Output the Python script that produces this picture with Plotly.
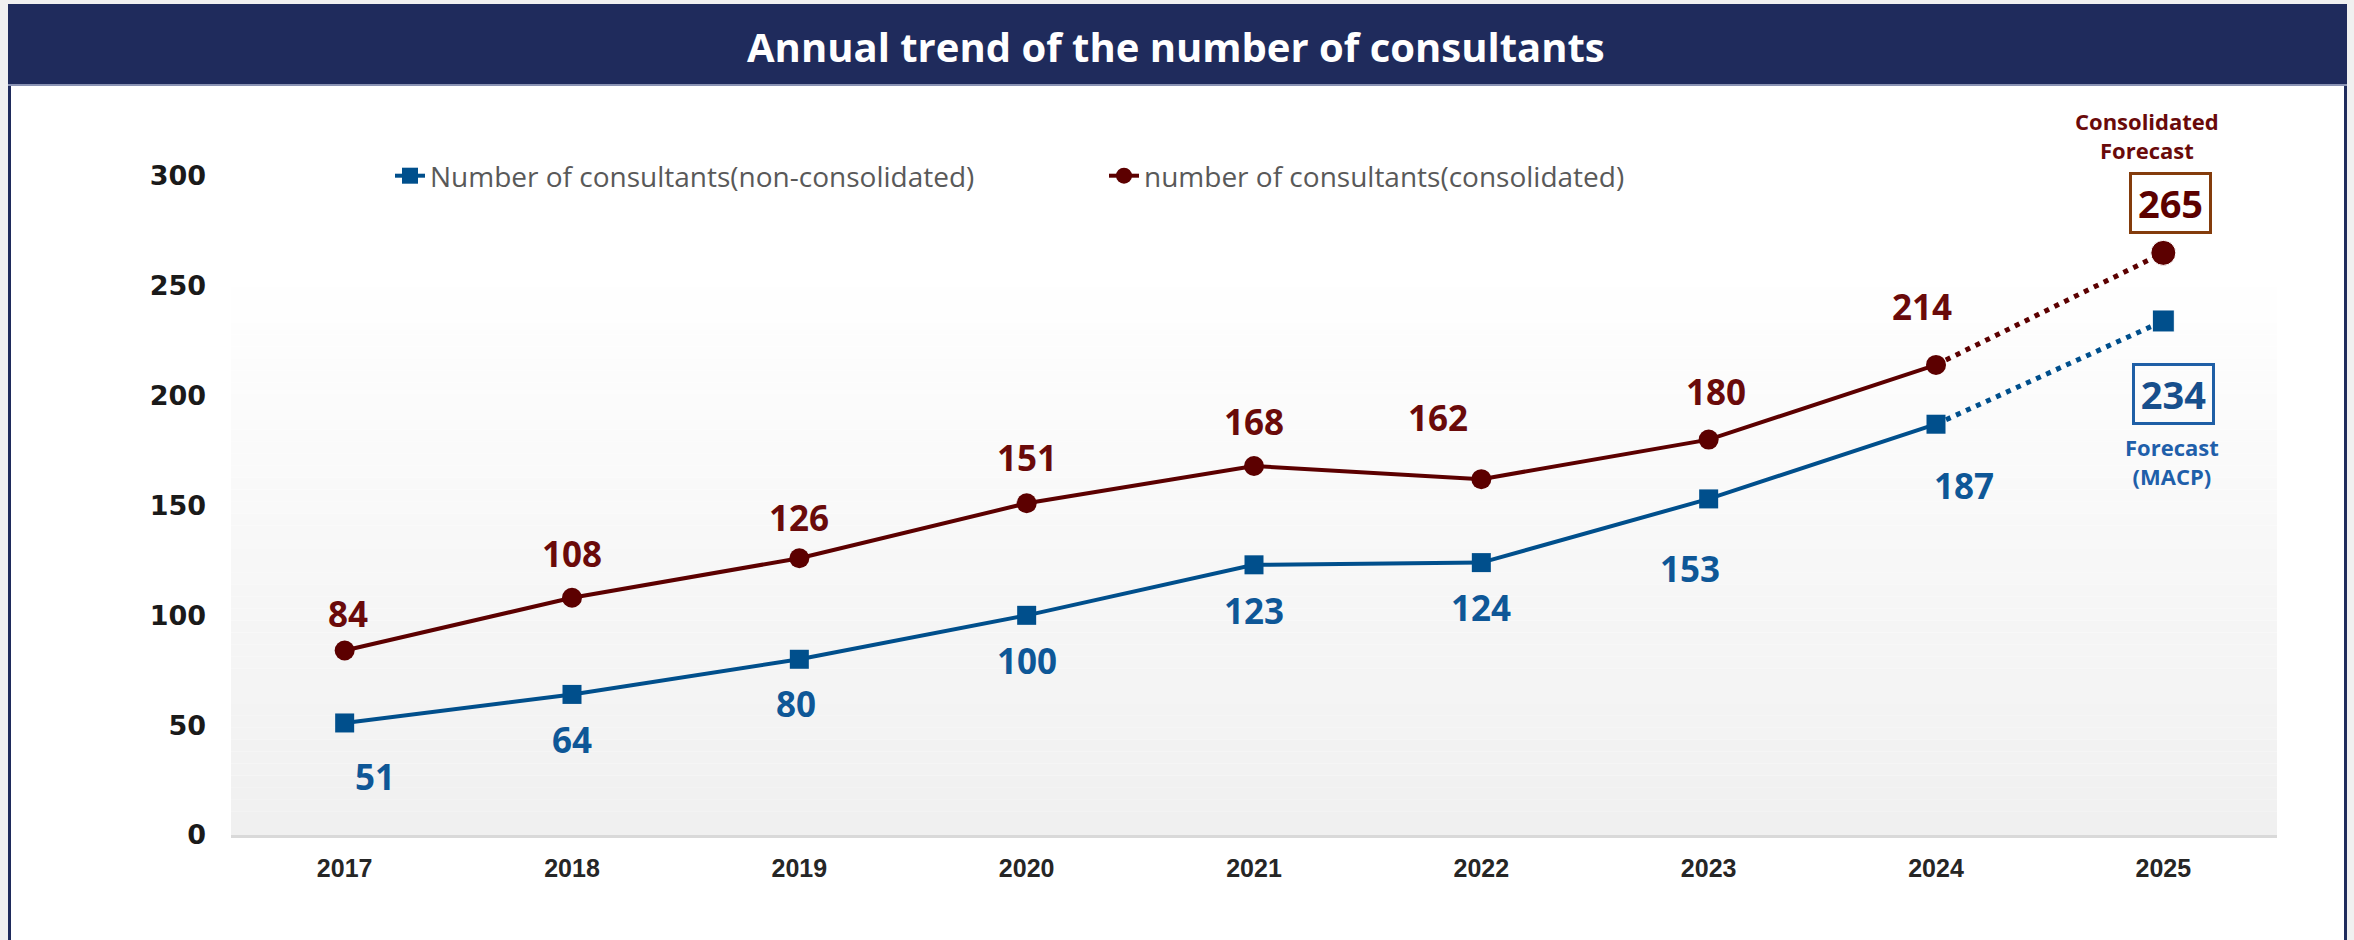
import plotly.graph_objects as go

# ---------------- data ----------------
years = [2017, 2018, 2019, 2020, 2021, 2022, 2023, 2024, 2025]
year_labels = ["2017", "2018", "2019", "2020", "2021", "2022", "2023", "2024", "2025"]
non_consolidated = [51, 64, 80, 100, 123, 124, 153, 187]      # actual 2017-2024
consolidated = [84, 108, 126, 151, 168, 162, 180, 214]         # actual 2017-2024
forecast_non_consolidated = 234                                 # 2025 forecast (MACP)
forecast_consolidated = 265                                     # 2025 consolidated forecast
y_ticks = [0, 50, 100, 150, 200, 250, 300]

series_names = ["Number of consultants(non-consolidated)", "number of consultants(consolidated)"]
title_text = "Annual trend of the number of consultants"

# ---------------- styles ----------------
W, H = 2354, 940
L, R, T, B = 231, 77, 176, 105
PW, PH = W - L - R, H - T - B

BLUE = "#004F8C"
RED = "#5C0000"
BLUE_TXT = "#0E5797"
RED_TXT = "#6A0A0A"
NAVY = "#1F2B5C"

def px(x):
    return (x - L) / PW

def py(y):
    return (H - B - y) / PH

# label offsets (xshift, yshift) in px, per point
red_shift = [(3, 37), (0, 44), (0, 41), (0, 46), (0, 44), (-43, 62), (7, 48), (-14, 58)]
blue_shift = [(30, -54), (0, -45), (-3, -44), (0, -45), (0, -46), (0, -45), (-19, -70), (28, -61)]

fig = go.Figure()

# dotted forecast segments
fig.add_trace(go.Scatter(
    x=[years[7], years[8]], y=[consolidated[-1], forecast_consolidated],
    mode="lines+markers", line=dict(color=RED, width=5, dash="5px,6px"),
    marker=dict(symbol="circle", size=[0, 25], color=RED, opacity=1), showlegend=False, hoverinfo="skip"))
fig.add_trace(go.Scatter(
    x=[years[7], years[8]], y=[non_consolidated[-1], forecast_non_consolidated],
    mode="lines+markers", line=dict(color=BLUE, width=5, dash="5px,6px"),
    marker=dict(symbol="square", size=[0, 22], color=BLUE, opacity=1), showlegend=False, hoverinfo="skip"))

# solid actual series
fig.add_trace(go.Scatter(
    x=years[:8], y=non_consolidated, name=series_names[0], mode="lines+markers",
    line=dict(color=BLUE, width=4), marker=dict(symbol="square", size=19, color=BLUE)))
fig.add_trace(go.Scatter(
    x=years[:8], y=consolidated, name=series_names[1], mode="lines+markers",
    line=dict(color=RED, width=4), marker=dict(symbol="circle", size=20, color=RED)))

annotations = []
label_font = "Open Sans"
for i, v in enumerate(consolidated):
    dx, dy = red_shift[i]
    annotations.append(dict(x=years[i], y=v, xref="x", yref="y", text=str(v), showarrow=False,
                            xshift=dx, yshift=dy,
                            font=dict(family=label_font, size=35, color=RED_TXT, weight="bold")))
for i, v in enumerate(non_consolidated):
    dx, dy = blue_shift[i]
    annotations.append(dict(x=years[i], y=v, xref="x", yref="y", text=str(v), showarrow=False,
                            xshift=dx, yshift=dy,
                            font=dict(family=label_font, size=35, color=BLUE_TXT, weight="bold")))

# forecast boxes
annotations += [
    dict(x=years[8], y=forecast_consolidated, xref="x", yref="y", text="Consolidated<br>Forecast",
         showarrow=False, xshift=-16, yshift=117,
         font=dict(family=label_font, size=22, color=RED_TXT, weight="bold")),
    dict(x=years[8], y=forecast_consolidated, xref="x", yref="y", text=str(forecast_consolidated),
         showarrow=False, xshift=7, yshift=50, width=77, height=56, bordercolor="#843C0C",
         borderwidth=3, borderpad=0,
         font=dict(family=label_font, size=38, color="#5C0000", weight="bold")),
    dict(x=years[8], y=forecast_non_consolidated, xref="x", yref="y", text=str(forecast_non_consolidated),
         showarrow=False, xshift=10, yshift=-73, width=77, height=56, bordercolor="#1F5FA6",
         borderwidth=3, borderpad=0,
         font=dict(family=label_font, size=38, color="#174F8C", weight="bold")),
    dict(x=years[8], y=forecast_non_consolidated, xref="x", yref="y", text="Forecast<br>(MACP)",
         showarrow=False, xshift=9, yshift=-141,
         font=dict(family=label_font, size=22, color="#1F5FAA", weight="bold")),
]

# title
annotations.append(dict(xref="paper", yref="paper", x=px(1176), y=py(46), text=title_text,
                        showarrow=False, xanchor="center", yanchor="middle",
                        font=dict(family="Open Sans", size=40, color="white", weight="bold")))

shapes = []
# gradient plot background (white top -> light grey bottom)
g_top, g_bot = 263, 835
n = 48
for k in range(n):
    y0 = g_top + (g_bot - g_top) * k / n
    y1 = g_top + (g_bot - g_top) * (k + 1) / n
    t = (k + 0.5) / n
    c = int(round(255 - (255 - 240) * t))
    shapes.append(dict(type="rect", xref="x domain", yref="paper", x0=0, x1=1, y0=py(y1), y1=py(y0),
                       fillcolor=f"rgb({c},{c},{c})", line=dict(width=0), layer="below"))
# page surroundings
shapes += [
    dict(type="rect", xref="paper", yref="paper", x0=px(0), x1=px(8), y0=py(940), y1=py(0),
         fillcolor="#F0F0F0", line=dict(width=0), layer="below"),
    dict(type="rect", xref="paper", yref="paper", x0=px(2347), x1=px(2354), y0=py(940), y1=py(0),
         fillcolor="#F0F0F0", line=dict(width=0), layer="below"),
    dict(type="rect", xref="paper", yref="paper", x0=px(0), x1=px(2354), y0=py(4), y1=py(0),
         fillcolor="#F0F0F0", line=dict(width=0), layer="below"),
    dict(type="rect", xref="paper", yref="paper", x0=px(8), x1=px(11), y0=py(940), y1=py(4),
         fillcolor=NAVY, line=dict(width=0), layer="below"),
    dict(type="rect", xref="paper", yref="paper", x0=px(2344), x1=px(2347), y0=py(940), y1=py(4),
         fillcolor=NAVY, line=dict(width=0), layer="below"),
    dict(type="rect", xref="paper", yref="paper", x0=px(8), x1=px(2347), y0=py(84), y1=py(4),
         fillcolor=NAVY, line=dict(width=0), layer="below"),
    dict(type="rect", xref="paper", yref="paper", x0=px(8), x1=px(2347), y0=py(86), y1=py(84),
         fillcolor="#8A93B4", line=dict(width=0), layer="below"),
]

fig.update_layout(
    width=W, height=H,
    margin=dict(l=L, r=R, t=T, b=B, pad=0, autoexpand=False),
    paper_bgcolor="white", plot_bgcolor="rgba(0,0,0,0)",
    showlegend=True,
    legend=dict(orientation="h", x=px(390), y=1.0, xanchor="left", yanchor="middle",
                bgcolor="rgba(0,0,0,0)", entrywidth=669, entrywidthmode="pixels",
                font=dict(family="Open Sans", size=28, color="#595959")),
    xaxis=dict(type="linear", range=[years[0] - 0.5, years[-1] + 0.5], tickvals=years, ticktext=year_labels,
               showgrid=False, zeroline=False, showline=True, linecolor="#D9D9D9", linewidth=3,
               ticks="", ticklabelstandoff=9, automargin=False,
               tickfont=dict(family="Liberation Sans", size=25, color="#262626", weight="bold")),
    yaxis=dict(range=[0, 300], tickvals=y_ticks, ticktext=[str(v) for v in y_ticks], automargin=False,
               showgrid=False, zeroline=False, showline=False, ticks="", ticklabelstandoff=24,
               tickfont=dict(family="DejaVu Sans", size=27, color="#1A1A1A", weight="bold")),
    annotations=annotations,
    shapes=shapes,
    hovermode=False,
)

fig.write_html("out.html", config={"displayModeBar": False},
               post_script="document.body.style.margin='0';document.body.style.overflow='hidden';")
